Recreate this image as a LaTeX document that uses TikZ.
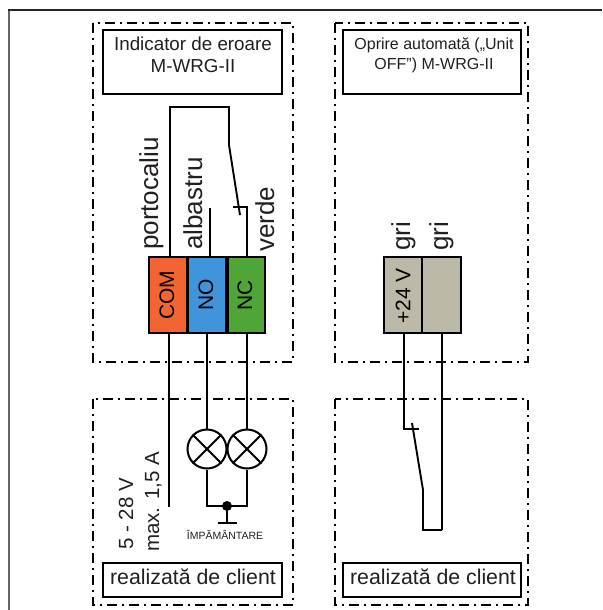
\documentclass[tikz,border=0pt]{standalone}
\usepackage{fontspec}
\setmainfont{Liberation Sans}
\definecolor{txt}{HTML}{231F20}
\definecolor{orng}{HTML}{F26532}
\definecolor{blu}{HTML}{3F94DC}
\definecolor{grn}{HTML}{4FA535}
\definecolor{gry}{HTML}{BDB9A9}
\tikzset{
  x=1pt,y=-1pt,
  zone/.style={draw=black,line width=1.7pt,dash pattern=on 10pt off 5pt on 2pt off 5pt},
  titlebox/.style={draw=black,line width=1.7pt,inner sep=0pt},
  term/.style={draw=black,line width=2pt,minimum height=76pt,inner sep=0pt},
  wire/.style={draw=black,line width=1.9pt,line join=miter},
  thinwire/.style={draw=black,line width=1.3pt},
  lamp/.style={draw=black,line width=2pt,circle,minimum size=39pt,inner sep=0pt},
  lbl/.style={text=txt,inner sep=0pt},
  vlbl/.style={lbl,rotate=90,anchor=base west,font=\fontsize{26}{30}\selectfont},
  vval/.style={lbl,rotate=90,anchor=base west,font=\fontsize{20.5}{24}\selectfont},
  tlbl/.style={rotate=90,inner sep=0pt,text=black,font=\fontsize{21}{24}\selectfont},
  client/.style={lbl,anchor=base,font=\fontsize{21.3}{25}\selectfont},
}
\begin{document}
\begin{tikzpicture}
\useasboundingbox (0,0) rectangle (602,610);
\draw[line width=1.8pt,draw=black!60] (9,610) -- (9,10);
\draw[line width=1.8pt,draw=black!85] (8.1,10) -- (602,10);
% zones
\draw[zone] (93,23) rectangle (293,362);
\draw[zone] (93,399) rectangle (293,605);
\draw[zone] (335,23) rectangle (528,362);
\draw[zone] (335,399) rectangle (528,605);
% title boxes
\node[titlebox,minimum width=179pt,minimum height=64pt] (t1) at (192.5,62) {};
\node[lbl,align=center,anchor=north,font=\fontsize{18.8}{22}\selectfont] (t1t) at (193,37) {Indicator de eroare\\M-WRG-II};
\node[titlebox,minimum width=178pt,minimum height=64pt] (t2) at (432,62) {};
\node[lbl,align=center,anchor=north,font=\fontsize{16}{19.5}\selectfont] (t2t) at (434,38) {Oprire automată („Unit\\OFF”) M-WRG-II};
\node[titlebox,minimum width=179pt,minimum height=34pt] (c1) at (192.5,580) {};
\node[client] (c1t) at (193,584) {realizată de client};
\node[titlebox,minimum width=178pt,minimum height=34pt] (c2) at (432,580) {};
\node[client] (c2t) at (433,584) {realizată de client};
% terminals
\node[term,fill=orng,minimum width=38pt] (com) at (168,295) {};
\node[term,fill=blu,minimum width=38pt] (no) at (207,295) {};
\node[term,fill=grn,minimum width=37pt] (nc) at (246.5,295) {};
\node[term,fill=gry,minimum width=38pt] (p24) at (403,295) {};
\node[term,fill=gry,minimum width=39pt] (g2) at (441.5,295) {};
\node[tlbl] (comt) at (167,295) {COM};
\node[tlbl] (not) at (206,295) {NO};
\node[tlbl] (nct) at (245,295) {NC};
\node[tlbl] (p24t) at (403,296) {+24 V};
% vertical labels
\node[vlbl] (l1) at (158,250) {portocaliu};
\node[vlbl] (l2) at (202,250) {albastru};
\node[vlbl] (l3) at (274,252) {verde};
\node[vlbl] (l4) at (410,251) {gri};
\node[vlbl] (l5) at (448,251) {gri};
\node[vval] (v1) at (133,550) {5 - 28 V};
\node[vval] (v2) at (159,552) {max. 1,5 A};
% upper left wiring
\coordinate (a1) at (170,107);
\coordinate (a2) at (229,107);
\coordinate (a3) at (229,145);
\coordinate (a4) at (240,215);
\coordinate (a5) at (233,207);
\coordinate (a6) at (247,207);
\draw[wire] (com.north -| a1) -- (a1) -- (a2) -- (a3) -- (a4);
\draw[wire] (a5) -- (a6) -- (nc.north -| a6);
\coordinate (b1) at (210,208);
\draw[wire] (no.north -| b1) -- (b1);
% lamps
\node[lamp] (la) at (207,449) {};
\node[lamp] (lb) at (247,449) {};
\foreach \n in {la,lb}{
  \draw[wire] (\n.45) -- (\n.225);
  \draw[wire] (\n.135) -- (\n.315);
}
\coordinate (d1) at (169,507);
\draw[thinwire] (com.south -| d1) -- (d1);
\draw[thinwire] (no.south -| la) -- (la.north);
\draw[thinwire] (nc.south -| lb) -- (lb.north);
\node[circle,fill=black,minimum size=10pt,inner sep=0pt] (dot) at (227,506) {};
\draw[wire] (la.south) -- (la.south |- dot) -- (lb.south |- dot) -- (lb.south);
\coordinate (g0) at (227,523);
\coordinate (g1) at (218,523);
\coordinate (g3) at (237,523);
\draw[wire] (dot) -- (g0);
\draw[wire] (g1) -- (g3);
\node[lbl,font=\fontsize{10.5}{12}\selectfont] (imp) at (225,535) {ÎMPĂMÂNTARE};
% right wiring
\coordinate (r1) at (404,429);
\coordinate (r2) at (419,429);
\coordinate (r3) at (412,423);
\coordinate (r4) at (423,490);
\coordinate (r5) at (423,530);
\coordinate (r6) at (442,530);
\coordinate (r7) at (442,429);
\coordinate (r8) at (442,381);
\draw[wire] (p24.south -| r1) -- (r1) -- (r2);
\draw[wire] (r3) -- (r4) -- (r5) -- (r6);
\draw[thinwire] (r6) -- (r7);
\draw[wire,line width=2.2pt] (r7) -- (r8);
\draw[thinwire] (r8) -- (g2.south -| r8);
\end{tikzpicture}
\end{document}
